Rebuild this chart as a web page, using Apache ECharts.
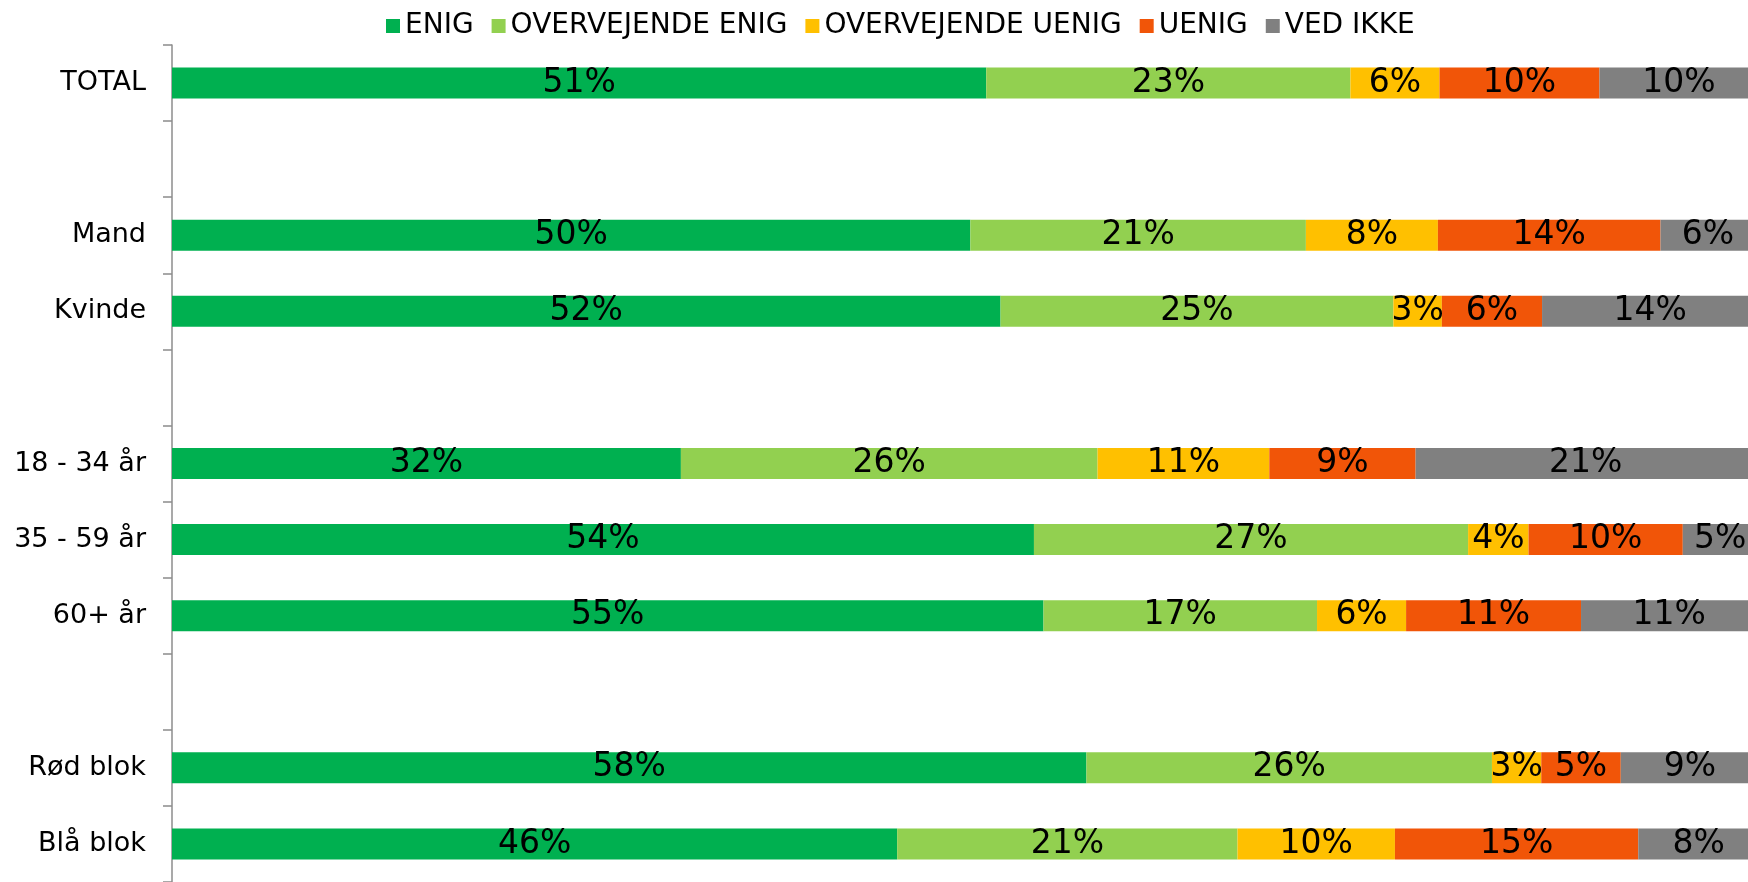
<!DOCTYPE html>
<html>
<head>
<meta charset="utf-8">
<script src="https://cdn.jsdelivr.net/npm/echarts@6/dist/echarts.min.js"></script>
<style>
html,body{margin:0;padding:0;background:#fff;}
#chart{width:1748px;height:882px;}
</style>
</head>
<body>
<div id="chart"></div>
<script>
const categories = ['TOTAL', '', 'Mand', 'Kvinde', '', '18 - 34 år', '35 - 59 år', '60+ år', '', 'Rød blok', 'Blå blok'];
const seriesNames = ['ENIG', 'OVERVEJENDE ENIG', 'OVERVEJENDE UENIG', 'UENIG', 'VED IKKE'];
const enig              = [51.2, null, 50.2, 52.1, null, 32.0, 54.2, 54.8, null, 57.5, 45.6];
const overvejendeEnig   = [22.9, null, 21.1, 24.7, null, 26.2, 27.3, 17.2, null, 25.5, 21.4];
const overvejendeUenig  = [5.6,  null, 8.3,  3.05, null, 10.8, 3.8,  5.6,  null, 3.1,  9.9];
const uenig             = [10.06, null, 14.0, 6.3, null, 9.2,  9.7,  11.0, null, 5.0,  15.3];
const vedIkke           = [9.99, null, 5.95, 13.6, null, 21.4, 4.7,  11.1, null, 8.7,  7.6];
const colors = ['#00B050', '#92D050', '#FFC000', '#F15508', '#808080'];

const values = [enig, overvejendeEnig, overvejendeUenig, uenig, vedIkke];
const font = 'DejaVu Sans, Verdana, sans-serif';

const chart = echarts.init(document.getElementById('chart'), null, {renderer: 'canvas'});
chart.setOption({
  animation: false,
  color: colors,
  textStyle: {fontFamily: font},
  legend: {
    top: 7,
    left: 381,
    itemWidth: 14,
    itemHeight: 14,
    itemGap: 18,
    icon: 'rect',
    textStyle: {fontSize: 28, color: '#000', fontFamily: font},
    data: seriesNames
  },
  grid: {left: 172, right: 0, top: 45, bottom: -4, containLabel: false},
  xAxis: {
    type: 'value', min: 0, max: 99.1, show: false,
    splitLine: {show: false}
  },
  yAxis: {
    type: 'category',
    inverse: true,
    data: categories,
    axisLine: {show: true, lineStyle: {color: '#8c8c8c', width: 1.5}},
    axisTick: {show: true, length: 9, lineStyle: {color: '#8c8c8c', width: 1.5}},
    axisLabel: {fontSize: 27, color: '#000', margin: 26, fontFamily: font}
  },
  series: seriesNames.map((name, i) => ({
    name: name,
    type: 'bar',
    stack: 'total',
    barWidth: 31,
    clip: false,
    data: values[i],
    itemStyle: {color: colors[i]},
    label: {
      show: true,
      position: 'inside',
      color: '#000',
      fontSize: 33,
      fontFamily: font,
      formatter: p => (p.value == null ? '' : Math.round(p.value) + '%')
    }
  }))
});
</script>
</body>
</html>
